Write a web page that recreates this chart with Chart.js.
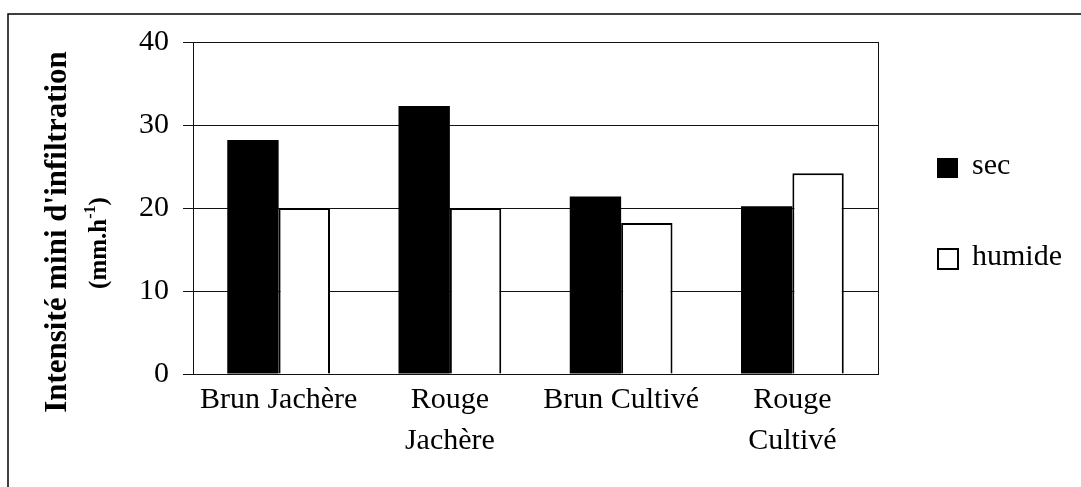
<!DOCTYPE html>
<html>
<head>
<meta charset="utf-8">
<script src="https://cdn.jsdelivr.net/npm/chart.js@4"></script>
<style>
  html, body { margin: 0; padding: 0; background: #fff; }
  #wrap { width: 1081px; height: 487px; position: relative; }
</style>
</head>
<body>
<div id="wrap"><canvas id="chart" width="1081" height="487"></canvas></div>
<script>
// ===== Data =====
const categories = [['Brun Jachère'], ['Rouge', 'Jachère'], ['Brun Cultivé'], ['Rouge', 'Cultivé']];
const secValues = [28.2, 32.3, 21.4, 20.2];
const humideValues = [20, 20, 18.2, 24.2];
const yTicks = [0, 10, 20, 30, 40];

const SERIF = "'Liberation Serif', 'DejaVu Serif', serif";

// frame, plot border, axis title and legend
const decorPlugin = {
  id: 'decor',
  afterDraw(chart) {
    const ctx = chart.ctx;
    const a = chart.chartArea;
    ctx.save();

    // outer frame (top + left edges only visible)
    ctx.strokeStyle = '#000';
    ctx.lineWidth = 1.5;
    ctx.beginPath();
    ctx.moveTo(8, 487);
    ctx.lineTo(8, 14);
    ctx.lineTo(1081, 14);
    ctx.stroke();

    // plot border
    ctx.lineWidth = 1;
    ctx.strokeStyle = '#111';
    ctx.strokeRect(a.left + 0.5, a.top + 0.5, a.right - a.left, a.bottom - a.top);

    // y axis title
    ctx.fillStyle = '#000';
    ctx.translate(58, 232);
    ctx.rotate(-Math.PI / 2);
    ctx.textAlign = 'center';
    ctx.textBaseline = 'middle';
    ctx.font = "bold 31px " + SERIF;
    ctx.fillText("Intensité mini d'infiltration", 0, 0);

    // second line with superscript
    ctx.font = "bold 25px " + SERIF;
    const p1 = '(mm.h', p3 = ')';
    const w1 = ctx.measureText(p1).width;
    const w3 = ctx.measureText(p3).width;
    ctx.font = "bold 16px " + SERIF;
    const p2 = '-1';
    const w2 = ctx.measureText(p2).width;
    const total = w1 + w2 + w3;
    let x = -total / 2 - 11;
    ctx.textAlign = 'left';
    ctx.font = "bold 25px " + SERIF;
    ctx.fillText(p1, x, 42);
    x += w1;
    ctx.font = "bold 16px " + SERIF;
    ctx.fillText(p2, x, 33);
    x += w2;
    ctx.font = "bold 25px " + SERIF;
    ctx.fillText(p3, x, 42);
    ctx.restore();

    // legend
    ctx.save();
    ctx.font = "30px " + SERIF;
    ctx.textBaseline = 'middle';
    ctx.fillStyle = '#000';
    ctx.fillRect(937, 158, 21, 20);
    ctx.fillText('sec', 972, 166);
    ctx.lineWidth = 2;
    ctx.strokeStyle = '#000';
    ctx.strokeRect(938, 249, 20, 20);
    ctx.fillText('humide', 972, 257);
    ctx.restore();
  }
};

new Chart(document.getElementById('chart'), {
  type: 'bar',
  data: {
    labels: categories,
    datasets: [
      {
        label: 'sec',
        data: secValues,
        backgroundColor: '#000',
        borderColor: '#000',
        borderWidth: 0,
        categoryPercentage: 0.6,
        barPercentage: 1.0,
      },
      {
        label: 'humide',
        data: humideValues,
        backgroundColor: '#fff',
        borderColor: '#000',
        borderWidth: 2,
        borderSkipped: 'bottom',
        categoryPercentage: 0.6,
        barPercentage: 1.0,
      }
    ]
  },
  options: {
    responsive: false,
    animation: false,
    layout: { padding: { left: 0, top: 42, right: 203, bottom: 0 } },
    plugins: {
      legend: { display: false },
      title: { display: false },
      tooltip: { enabled: false }
    },
    scales: {
      x: {
        grid: { display: false, drawTicks: false },
        border: { display: true, color: '#111', width: 1 },
        ticks: {
          color: '#000',
          font: { family: SERIF, size: 30, lineHeight: 1.35 },
          padding: 6,
          maxRotation: 0,
          autoSkip: false
        },
        afterFit(scale) { scale.height = 113; }
      },
      y: {
        min: 0,
        max: 40,
        afterBuildTicks(scale) { scale.ticks = yTicks.map(v => ({ value: v })); },
        grid: { color: '#111', lineWidth: 1, tickLength: 10, drawTicks: true },
        border: { display: true, color: '#111', width: 1 },
        ticks: {
          color: '#000',
          font: { family: SERIF, size: 30 },
          padding: 14
        },
        afterFit(scale) { scale.width = 193; }
      }
    }
  },
  plugins: [decorPlugin]
});
</script>
</body>
</html>
